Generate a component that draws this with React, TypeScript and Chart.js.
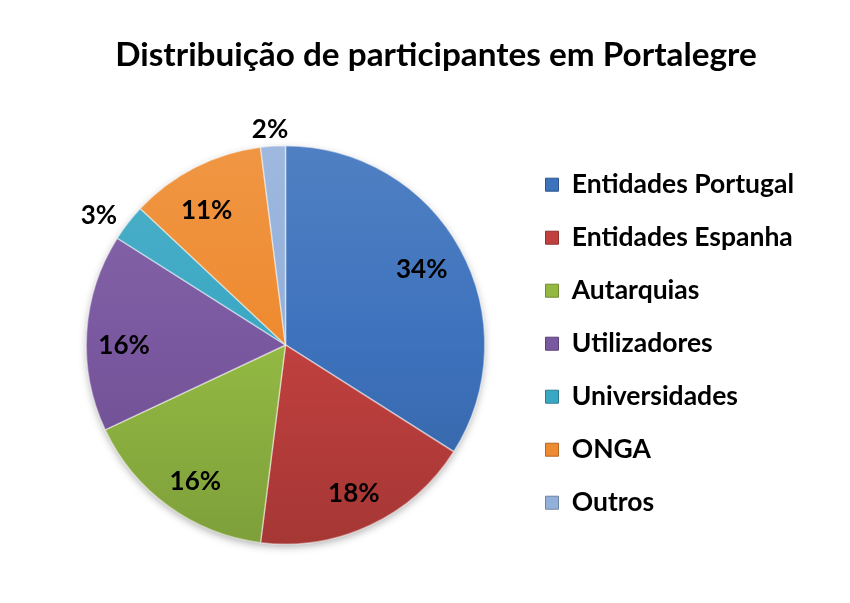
import React, { useEffect, useRef } from "react";
import { Chart, registerables, layouts } from "chart.js";

Chart.register(...registerables);

const chartTitle = "Distribuição de participantes em Portalegre";
const categories = [
  "Entidades Portugal",
  "Entidades Espanha",
  "Autarquias",
  "Utilizadores",
  "Universidades",
  "ONGA",
  "Outros",
];
const shares = [34, 18, 16, 16, 3, 11, 2];
const sliceColors = ["#3D72BC", "#C0403E", "#93B943", "#7A58A0", "#3AA7C3", "#EE8A2F", "#93B0DA"];
// data label placement: fraction of the radius, and angle nudge (degrees) from the slice middle
const labelRadius = [0.78, 0.82, 0.82, 0.81, 1.14, 0.78, 1.085];
const labelNudge = [0, 0.5, -2.5, -4, -3, -3.5, -0.5];

const FONT = "Lato, 'Open Sans', sans-serif";
const LEGEND_GAP = 16;

function mix(hex: string, target: number, amt: number): string {
  const n = parseInt(hex.slice(1), 16);
  const r = (n >> 16) & 255;
  const g = (n >> 8) & 255;
  const b = n & 255;
  const f = (c: number) => Math.round(c + (target - c) * amt);
  return `rgb(${f(r)},${f(g)},${f(b)})`;
}

// empty layout box that keeps a gap between the pie area and the legend
const legendGap = {
  id: "legendGap",
  beforeInit(chart: any) {
    const box: any = {
      position: "right",
      weight: 0,
      fullSize: false,
      options: {},
      width: 0,
      height: 0,
      top: 0,
      left: 0,
      right: 0,
      bottom: 0,
      isHorizontal: () => false,
      update(_w: number, h: number) {
        box.width = LEGEND_GAP;
        box.height = h;
      },
      draw() {},
    };
    layouts.addBox(chart, box);
  },
};

const pieShadow = {
  id: "pieShadow",
  beforeDatasetsDraw(chart: any) {
    const arc = chart.getDatasetMeta(0).data[0];
    if (!arc) return;
    const { x, y, outerRadius } = arc.getProps(["x", "y", "outerRadius"], true);
    const ctx = chart.ctx;
    ctx.save();
    ctx.shadowColor = "rgba(0,0,0,0.35)";
    ctx.shadowBlur = 9;
    ctx.shadowOffsetY = 3;
    ctx.fillStyle = "#fff";
    ctx.beginPath();
    ctx.arc(x, y, outerRadius - 1, 0, Math.PI * 2);
    ctx.fill();
    ctx.restore();
  },
};

const sliceLabels = {
  id: "sliceLabels",
  afterDatasetsDraw(chart: any) {
    const meta = chart.getDatasetMeta(0);
    const data = chart.data.datasets[0].data as number[];
    const total = data.reduce((a, b) => a + b, 0);
    const ctx = chart.ctx;
    ctx.save();
    ctx.font = `bold 26px ${FONT}`;
    ctx.fillStyle = "#000";
    ctx.textAlign = "center";
    ctx.textBaseline = "middle";
    meta.data.forEach((arc: any, i: number) => {
      const { x, y, startAngle, endAngle, outerRadius } = arc.getProps(
        ["x", "y", "startAngle", "endAngle", "outerRadius"],
        true
      );
      const mid = (startAngle + endAngle) / 2 + (labelNudge[i] * Math.PI) / 180;
      const r = outerRadius * labelRadius[i];
      const pct = Math.round((data[i] / total) * 100);
      ctx.fillText(`${pct}%`, x + Math.cos(mid) * r, y + Math.sin(mid) * r);
    });
    ctx.restore();
  },
};

export default function App() {
  const ref = useRef<HTMLCanvasElement | null>(null);

  useEffect(() => {
    if (!ref.current) return;
    const chart = new Chart(ref.current, {
      type: "pie",
      data: {
        labels: categories,
        datasets: [
          {
            data: shares,
            backgroundColor: (c: any) => {
              const base = sliceColors[c.dataIndex % sliceColors.length];
              const area = c.chart.chartArea;
              if (!area) return base;
              const g = c.chart.ctx.createLinearGradient(0, area.top, 0, area.bottom);
              g.addColorStop(0, mix(base, 255, 0.1));
              g.addColorStop(0.5, base);
              g.addColorStop(1, mix(base, 0, 0.14));
              return g;
            },
            borderColor: "rgba(255,255,255,0.45)",
            borderWidth: 1.5,
          },
        ],
      },
      options: {
        responsive: true,
        maintainAspectRatio: false,
        animation: false,
        layout: { padding: { left: 68, right: 46, top: 0, bottom: 58 } },
        plugins: {
          title: {
            display: true,
            text: chartTitle,
            color: "#000",
            font: { family: FONT, size: 33.3, weight: "bold" },
            padding: { top: 35, bottom: 70 },
          },
          legend: {
            position: "right",
            fullSize: false,
            align: "start",
            maxWidth: 420,
            labels: {
              color: "#000",
              font: { family: FONT, size: 26.5, weight: "bold" },
              boxWidth: 13,
              boxHeight: 13,
              padding: 26.5,
              generateLabels: (ch: any) =>
                ch.data.labels.map((t: string, i: number) => ({
                  text: t,
                  fillStyle: sliceColors[i],
                  strokeStyle: mix(sliceColors[i], 0, 0.25),
                  lineWidth: 1,
                  hidden: false,
                  index: i,
                })),
            },
          },
          tooltip: { enabled: false },
        },
      },
      plugins: [legendGap, pieShadow, sliceLabels],
    });
    return () => chart.destroy();
  }, []);

  return (
    <div style={{ position: "fixed", left: 0, top: 0, width: 850, height: 603, background: "#fff" }}>
      <canvas ref={ref} />
    </div>
  );
}
